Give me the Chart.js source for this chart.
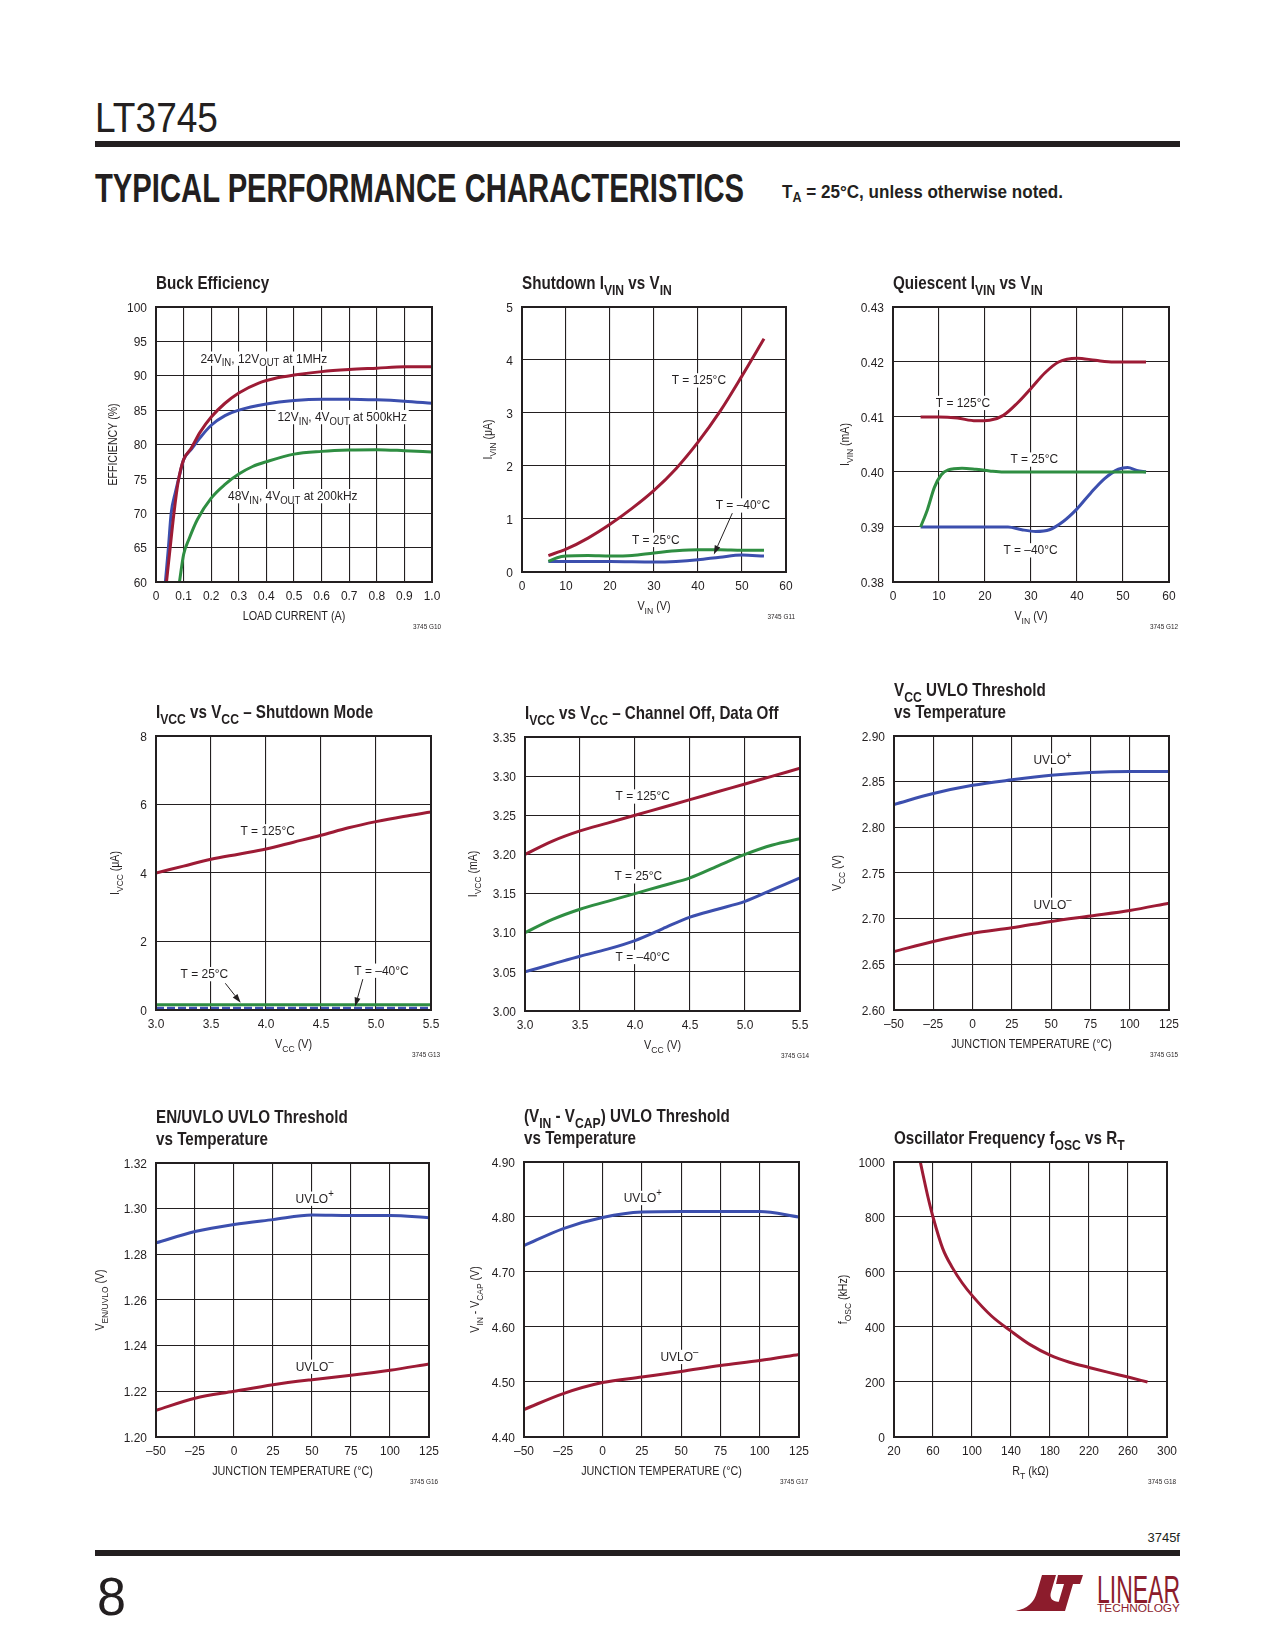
<!DOCTYPE html>
<html>
<head>
<meta charset="utf-8">
<script src="https://cdn.jsdelivr.net/npm/chart.js@4.4.1/dist/chart.umd.min.js"></script>
<style>
  html, body { margin: 0; padding: 0; background: #fff; }
  #page { position: relative; width: 1275px; height: 1650px; overflow: hidden; background: #fff; }
  #page canvas { position: absolute; }
  #deco { position: absolute; left: 0; top: 0; }
</style>
</head>
<body>
<div id="page">
<svg id="deco" width="1275" height="1650" font-family="'Liberation Sans', Arial, sans-serif" fill="#231f20">
  <text x="95" y="132" font-size="42" textLength="123" lengthAdjust="spacingAndGlyphs">LT3745</text>
  <rect x="95" y="141" width="1085" height="6"/>
  <text x="95" y="202" font-size="40" font-weight="bold" textLength="649" lengthAdjust="spacingAndGlyphs">TYPICAL PERFORMANCE CHARACTERISTICS</text>
  <text x="782" y="198" font-size="19" font-weight="bold" textLength="281" lengthAdjust="spacingAndGlyphs">T<tspan font-size="14" dy="4">A</tspan><tspan dy="-4"> = 25°C, unless otherwise noted.</tspan></text>
  <text x="1180" y="1542" font-size="13" text-anchor="end">3745f</text>
  <rect x="95" y="1550" width="1085" height="6"/>
  <text x="97" y="1615" font-size="54" textLength="29" lengthAdjust="spacingAndGlyphs">8</text>
  <g transform="translate(1015,1575)" fill="#8c1c2c">
    <path d="M27,0 L41,0 L36,17 C34,24 38,27 45,27 L42,36 L0,36 C12,34 19,28 22,17 Z"/>
    <path d="M43,0 L68,0 L65,9 L58,9 L50,36 L41,36 L49,9 L41,9 Z"/>
  </g>
  <text x="1097" y="1603" font-size="38" fill="#8c1c2c" textLength="83" lengthAdjust="spacingAndGlyphs">LINEAR</text>
  <text x="1097" y="1612" font-size="10" fill="#8c1c2c" textLength="83" lengthAdjust="spacingAndGlyphs">TECHNOLOGY</text>
</svg>
</div>
<script>
// ---------- data ----------
// Buck efficiency
const buckX24 = [0.038, 0.05, 0.065, 0.08, 0.1, 0.125, 0.16, 0.2, 0.25, 0.3, 0.37, 0.44, 0.5, 0.6, 0.7, 0.8, 0.9, 1.0];
const buckY24 = [60, 64.5, 70, 74.5, 77.8, 79.3, 81.8, 84, 86, 87.5, 88.9, 89.7, 90.1, 90.6, 90.9, 91.1, 91.3, 91.3];
const buckX12 = [0.034, 0.045, 0.055, 0.07, 0.085, 0.1, 0.13, 0.16, 0.2, 0.25, 0.3, 0.4, 0.5, 0.6, 0.7, 0.8, 0.9, 1.0];
const buckY12 = [60, 65, 70, 73, 75.5, 77.8, 79.4, 81.0, 82.8, 84.2, 85, 85.9, 86.4, 86.6, 86.6, 86.5, 86.3, 86.0];
const buckX48 = [0.085, 0.1, 0.12, 0.15, 0.2, 0.25, 0.3, 0.35, 0.4, 0.5, 0.6, 0.7, 0.8, 0.9, 1.0];
const buckY48 = [60, 64, 66.3, 69.1, 72.2, 74.2, 75.7, 76.8, 77.5, 78.6, 79.0, 79.2, 79.25, 79.1, 78.9];
const buckXLabels = ['0', '0.1', '0.2', '0.3', '0.4', '0.5', '0.6', '0.7', '0.8', '0.9', '1.0'];
const buckYLabels = ['60', '65', '70', '75', '80', '85', '90', '95', '100'];

// Shutdown IVIN vs VIN
const sdVin125 = [6, 10, 15, 20, 25, 30, 35, 40, 45, 50, 55];
const sdI125 = [0.31, 0.43, 0.64, 0.9, 1.2, 1.54, 1.95, 2.45, 3.03, 3.7, 4.4];
const sdVin25 = [6, 8, 10, 15, 20, 25, 30, 35, 40, 45, 50, 55];
const sdI25 = [0.2, 0.27, 0.3, 0.31, 0.3, 0.31, 0.36, 0.4, 0.42, 0.42, 0.41, 0.41];
const sdVinM40 = [6, 10, 20, 30, 35, 40, 45, 50, 55];
const sdIM40 = [0.2, 0.2, 0.2, 0.19, 0.2, 0.23, 0.28, 0.32, 0.3];
const vinLabels = ['0', '10', '20', '30', '40', '50', '60'];
const sdILabels = ['0', '1', '2', '3', '4', '5'];

// Quiescent IVIN vs VIN
const qVin125 = [6, 10, 14, 18, 21, 24, 27, 30, 33, 36, 40, 44, 48, 55];
const qI125 = [0.41, 0.41, 0.4098, 0.4093, 0.4094, 0.4103, 0.4125, 0.4152, 0.418, 0.42, 0.4207, 0.4203, 0.42, 0.42];
const qVin25 = [6, 7.5, 9, 10.5, 12, 15, 18, 21, 24, 30, 40, 50, 55];
const qI25 = [0.39, 0.3932, 0.3972, 0.3995, 0.4004, 0.4007, 0.4005, 0.4002, 0.4, 0.4, 0.4, 0.4, 0.4];
const qVinM40 = [6, 10, 20, 25, 28, 31, 34, 37, 40, 43, 46, 49, 51, 53, 55];
const qIM40 = [0.39, 0.39, 0.39, 0.39, 0.3895, 0.3892, 0.3895, 0.391, 0.3933, 0.3962, 0.3988, 0.4005, 0.4008, 0.4003, 0.4];
const qILabels = ['0.38', '0.39', '0.40', '0.41', '0.42', '0.43'];

// IVCC vs VCC, shutdown mode
const sdVcc = [3.0, 3.25, 3.5, 3.75, 4.0, 4.25, 4.5, 4.75, 5.0, 5.25, 5.5];
const sdIcc125 = [4.0, 4.2, 4.4, 4.55, 4.7, 4.9, 5.1, 5.32, 5.5, 5.65, 5.78];
const sdIcc25 = [0.15, 0.15, 0.15, 0.15, 0.15, 0.15, 0.15, 0.15, 0.15, 0.15, 0.15];
const sdIccM40 = [0.06, 0.06, 0.06, 0.06, 0.06, 0.06, 0.06, 0.06, 0.06, 0.06, 0.06];
const vccLabels = ['3.0', '3.5', '4.0', '4.5', '5.0', '5.5'];
const sdIccLabels = ['0', '2', '4', '6', '8'];

// IVCC vs VCC, channel off
const offVcc = [3.0, 3.25, 3.5, 3.75, 4.0, 4.25, 4.5, 4.75, 5.0, 5.25, 5.5];
const offIcc125 = [3.20, 3.217, 3.23, 3.24, 3.25, 3.26, 3.27, 3.28, 3.29, 3.30, 3.31];
const offIcc25 = [3.10, 3.117, 3.13, 3.14, 3.15, 3.16, 3.17, 3.185, 3.20, 3.212, 3.22];
const offIccM40 = [3.05, 3.06, 3.07, 3.079, 3.09, 3.105, 3.12, 3.13, 3.14, 3.155, 3.17];
const offIccLabels = ['3.00', '3.05', '3.10', '3.15', '3.20', '3.25', '3.30', '3.35'];

// thresholds vs temperature
const tempC = [-50, -25, 0, 25, 50, 75, 100, 125];
const vccUvloRise = [2.825, 2.837, 2.846, 2.852, 2.857, 2.86, 2.861, 2.861];
const vccUvloFall = [2.664, 2.675, 2.684, 2.690, 2.697, 2.703, 2.709, 2.717];
const enUvloRise = [1.285, 1.290, 1.2931, 1.2952, 1.2972, 1.297, 1.297, 1.296];
const enUvloFall = [1.2117, 1.217, 1.22, 1.2229, 1.2251, 1.227, 1.2292, 1.232];
const capUvloRise = [4.748, 4.779, 4.799, 4.809, 4.81, 4.81, 4.81, 4.80];
const capUvloFall = [4.45, 4.479, 4.499, 4.509, 4.519, 4.530, 4.539, 4.55];
const tempLabels = ['–50', '–25', '0', '25', '50', '75', '100', '125'];
const vccUvloLabels = ['2.60', '2.65', '2.70', '2.75', '2.80', '2.85', '2.90'];
const enUvloLabels = ['1.20', '1.22', '1.24', '1.26', '1.28', '1.30', '1.32'];
const capUvloLabels = ['4.40', '4.50', '4.60', '4.70', '4.80', '4.90'];

// oscillator frequency vs RT
const rtK = [47, 50, 55, 60, 70, 80, 90, 100, 120, 140, 160, 180, 200, 220, 240, 260, 280];
const foscK = [1000, 950, 870, 800, 685, 615, 560, 515, 440, 385, 335, 298, 272, 253, 235, 218, 200];
const rtLabels = ['20', '60', '100', '140', '180', '220', '260', '300'];
const foscLabels = ['0', '200', '400', '600', '800', '1000'];

// ---------- drawing helpers ----------
const RED = '#9d1b35', BLUE = '#3c4fae', GREEN = '#2f8e42', INK = '#231f20';
const FONT = '"Liberation Sans", Arial, Helvetica, sans-serif';

function part(p) { return typeof p === 'string' ? [p, ''] : p; }
function setFont(ctx, size, bold) { ctx.font = (bold ? 'bold ' : '') + size.toFixed(2) + 'px ' + FONT; }
function richWidth(ctx, parts, size, bold) {
  let w = 0;
  parts.forEach(p => { const [t, k] = part(p); setFont(ctx, k ? size * 0.8 : size, bold); w += ctx.measureText(t).width; });
  return w;
}
// y is the baseline
function drawRich(ctx, parts, x, y, o) {
  const size = o.size, bold = !!o.bold, sx = o.sx || 1;
  ctx.save();
  ctx.translate(x, y);
  if (o.rot) ctx.rotate(-Math.PI / 2);
  ctx.scale(sx, 1);
  const w = richWidth(ctx, parts, size, bold);
  let cx = o.align === 'center' ? -w / 2 : o.align === 'right' ? -w : 0;
  if (o.bg) { ctx.fillStyle = '#fff'; ctx.fillRect(cx - 2, -size * 0.85, w + 4, size * 1.1); }
  ctx.fillStyle = INK; ctx.textAlign = 'left'; ctx.textBaseline = 'alphabetic';
  parts.forEach(p => {
    const [t, k] = part(p);
    const s = k ? size * 0.8 : size;
    const dy = k === 'sub' ? size * 0.3 : k === 'sup' ? -size * 0.42 : 0;
    setFont(ctx, s, bold);
    ctx.fillText(t, cx, dy);
    cx += ctx.measureText(t).width;
  });
  ctx.restore();
}
function arrow(ctx, x1, y1, x2, y2) {
  const a = Math.atan2(y2 - y1, x2 - x1), L = 9, hw = 3;
  ctx.save();
  ctx.strokeStyle = INK; ctx.fillStyle = INK; ctx.lineWidth = 1;
  ctx.beginPath(); ctx.moveTo(x1, y1); ctx.lineTo(x2 - L * Math.cos(a), y2 - L * Math.sin(a)); ctx.stroke();
  ctx.beginPath(); ctx.moveTo(x2, y2);
  ctx.lineTo(x2 - L * Math.cos(a) + hw * Math.sin(a), y2 - L * Math.sin(a) - hw * Math.cos(a));
  ctx.lineTo(x2 - L * Math.cos(a) - hw * Math.sin(a), y2 - L * Math.sin(a) + hw * Math.cos(a));
  ctx.closePath(); ctx.fill();
  ctx.restore();
}

function pagePlugin(c) {
  return {
    id: 'pageText',
    beforeDatasetsDraw(chart) {
      const ctx = chart.ctx, xs = chart.scales.x, ys = chart.scales.y;
      (c.labels || []).forEach(l => {
        drawRich(ctx, l.parts, xs.getPixelForValue(l.x), ys.getPixelForValue(l.y) + 0.36 * 13,
          { size: 13, sx: 0.92, align: l.align || 'center', bg: true });
      });
    },
    afterDraw(chart) {
      const ctx = chart.ctx, a = chart.chartArea, xs = chart.scales.x, ys = chart.scales.y;
      ctx.save();
      ctx.strokeStyle = INK; ctx.lineWidth = 2;
      ctx.strokeRect(a.left, a.top, a.right - a.left, a.bottom - a.top);
      ctx.restore();
      ys.ticks.forEach((t, i) => drawRich(ctx, [c.yLabels[i]], a.left - 9, ys.getPixelForValue(t.value) + 4.7,
        { size: 13, sx: 0.92, align: 'right' }));
      xs.ticks.forEach((t, i) => drawRich(ctx, [c.xLabels[i]], xs.getPixelForValue(t.value), a.bottom + 18.2,
        { size: 13, sx: 0.92, align: 'center' }));
      const n = c.title.length;
      c.title.forEach((ln, i) => drawRich(ctx, ln, a.left, a.top - 18 - 22 * (n - 1 - i), { size: 19, bold: true, sx: 0.8 }));
      drawRich(ctx, c.yTitle, a.left + c.yTitleDx + 0.36 * 12, (a.top + a.bottom) / 2, { size: 12, sx: 0.88, align: 'center', rot: true });
      drawRich(ctx, c.xTitle, (a.left + a.right) / 2, a.bottom + 38.3, { size: 12, sx: 0.9, align: 'center' });
      drawRich(ctx, ['3745 ' + c.code], a.right + 9, a.bottom + 46.5, { size: 7.5, sx: 0.85, align: 'right' });
      (c.arrows || []).forEach(r => arrow(ctx, xs.getPixelForValue(r.x1), ys.getPixelForValue(r.y1),
        xs.getPixelForValue(r.x2), ys.getPixelForValue(r.y2)));
    }
  };
}

const num = s => parseFloat(s.replace('–', '-'));

function makeChart(c) {
  const PL = 85, PT = 70, PR = 35, PB = 60;
  const W = c.w + PL + PR, H = c.h + PT + PB;
  const cv = document.createElement('canvas');
  cv.width = W; cv.height = H;
  cv.style.left = (c.left - PL) + 'px'; cv.style.top = (c.top - PT) + 'px';
  cv.style.width = W + 'px'; cv.style.height = H + 'px';
  document.getElementById('page').appendChild(cv);
  const axis = (labels, isX) => {
    const ticks = labels.map(num);
    return {
      type: 'linear', min: ticks[0], max: ticks[ticks.length - 1],
      afterBuildTicks: s => { s.ticks = ticks.map(v => ({ value: v })); },
      afterFit: s => { if (isX) s.height = 0; else s.width = 0; },
      ticks: { display: false },
      grid: { color: INK, lineWidth: 1.1, drawTicks: false },
      border: { display: false }
    };
  };
  new Chart(cv, {
    type: 'line',
    data: {
      datasets: c.series.map(s => ({
        data: s.x.map((v, i) => ({ x: v, y: s.y[i] })),
        borderColor: s.color, borderWidth: s.width || 3, borderDash: s.dash || [],
        pointRadius: 0, fill: false, cubicInterpolationMode: 'monotone'
      }))
    },
    options: {
      responsive: false, animation: false, events: [],
      layout: { padding: { left: PL, top: PT, right: PR, bottom: PB } },
      plugins: { legend: { display: false }, tooltip: { enabled: false } },
      scales: { x: axis(c.xLabels, true), y: axis(c.yLabels, false) }
    },
    plugins: [pagePlugin(c)]
  });
}

const T125 = ['T = 125°C'], T25 = ['T = 25°C'], TM40 = ['T = –40°C'];
const UP = ['UVLO', ['+', 'sup']], DN = ['UVLO', ['–', 'sup']];

const charts = [
  { left: 156, top: 307, w: 276, h: 275, code: 'G10',
    title: [['Buck Efficiency']], yTitle: ['EFFICIENCY (%)'], yTitleDx: -43, xTitle: ['LOAD CURRENT (A)'],
    xLabels: buckXLabels, yLabels: buckYLabels,
    series: [{ x: buckX24, y: buckY24, color: RED }, { x: buckX12, y: buckY12, color: BLUE }, { x: buckX48, y: buckY48, color: GREEN }],
    labels: [
      { x: 0.161, y: 92.6, align: 'left', parts: ['24V', ['IN', 'sub'], ', 12V', ['OUT', 'sub'], ' at 1MHz'] },
      { x: 0.44, y: 84.1, align: 'left', parts: ['12V', ['IN', 'sub'], ', 4V', ['OUT', 'sub'], ' at 500kHz'] },
      { x: 0.261, y: 72.6, align: 'left', parts: ['48V', ['IN', 'sub'], ', 4V', ['OUT', 'sub'], ' at 200kHz'] }
    ] },
  { left: 522, top: 307, w: 264, h: 265, code: 'G11',
    title: [['Shutdown I', ['VIN', 'sub'], ' vs V', ['IN', 'sub']]], yTitle: ['I', ['VIN', 'sub'], ' (μA)'], yTitleDx: -34,
    xTitle: ['V', ['IN', 'sub'], ' (V)'], xLabels: vinLabels, yLabels: sdILabels,
    series: [{ x: sdVin125, y: sdI125, color: RED }, { x: sdVin25, y: sdI25, color: GREEN }, { x: sdVinM40, y: sdIM40, color: BLUE }],
    labels: [{ x: 40.2, y: 3.63, parts: T125 }, { x: 50.2, y: 1.27, parts: TM40 }, { x: 30.4, y: 0.62, parts: T25 }],
    arrows: [{ x1: 47.8, y1: 1.11, x2: 43.6, y2: 0.33 }] },
  { left: 893, top: 307, w: 276, h: 275, code: 'G12',
    title: [['Quiescent I', ['VIN', 'sub'], ' vs V', ['IN', 'sub']]], yTitle: ['I', ['VIN', 'sub'], ' (mA)'], yTitleDx: -48,
    xTitle: ['V', ['IN', 'sub'], ' (V)'], xLabels: vinLabels, yLabels: qILabels,
    series: [{ x: qVin125, y: qI125, color: RED }, { x: qVin25, y: qI25, color: GREEN }, { x: qVinM40, y: qIM40, color: BLUE }],
    labels: [{ x: 15.2, y: 0.4127, parts: T125 }, { x: 30.7, y: 0.4024, parts: T25 }, { x: 29.9, y: 0.3859, parts: TM40 }] },
  { left: 156, top: 736, w: 275, h: 274, code: 'G13',
    title: [['I', ['VCC', 'sub'], ' vs V', ['CC', 'sub'], ' – Shutdown Mode']], yTitle: ['I', ['VCC', 'sub'], ' (μA)'], yTitleDx: -41,
    xTitle: ['V', ['CC', 'sub'], ' (V)'], xLabels: vccLabels, yLabels: sdIccLabels,
    series: [{ x: sdVcc, y: sdIcc125, color: RED }, { x: sdVcc, y: sdIcc25, color: GREEN },
             { x: sdVcc, y: sdIccM40, color: BLUE, width: 2.3, dash: [8, 3] }],
    labels: [{ x: 4.015, y: 5.24, parts: T125 }, { x: 3.44, y: 1.07, parts: T25 }, { x: 5.05, y: 1.17, parts: TM40 }],
    arrows: [{ x1: 3.63, y1: 0.78, x2: 3.77, y2: 0.21 }, { x1: 4.88, y1: 0.9, x2: 4.81, y2: 0.1 }] },
  { left: 525, top: 737, w: 275, h: 274, code: 'G14',
    title: [['I', ['VCC', 'sub'], ' vs V', ['CC', 'sub'], ' – Channel Off, Data Off']], yTitle: ['I', ['VCC', 'sub'], ' (mA)'], yTitleDx: -52,
    xTitle: ['V', ['CC', 'sub'], ' (V)'], xLabels: vccLabels, yLabels: offIccLabels,
    series: [{ x: offVcc, y: offIcc125, color: RED }, { x: offVcc, y: offIcc25, color: GREEN }, { x: offVcc, y: offIccM40, color: BLUE }],
    labels: [{ x: 4.07, y: 3.275, parts: T125 }, { x: 4.03, y: 3.173, parts: T25 }, { x: 4.07, y: 3.07, parts: TM40 }] },
  { left: 894, top: 736, w: 275, h: 274, code: 'G15',
    title: [['V', ['CC', 'sub'], ' UVLO Threshold'], ['vs Temperature']], yTitle: ['V', ['CC', 'sub'], ' (V)'], yTitleDx: -57,
    xTitle: ['JUNCTION TEMPERATURE (°C)'], xLabels: tempLabels, yLabels: vccUvloLabels,
    series: [{ x: tempC, y: vccUvloRise, color: BLUE }, { x: tempC, y: vccUvloFall, color: RED }],
    labels: [{ x: 50.9, y: 2.874, parts: UP }, { x: 50.9, y: 2.716, parts: DN }] },
  { left: 156, top: 1163, w: 273, h: 274, code: 'G16',
    title: [['EN/UVLO UVLO Threshold'], ['vs Temperature']], yTitle: ['V', ['EN/UVLO', 'sub'], ' (V)'], yTitleDx: -56,
    xTitle: ['JUNCTION TEMPERATURE (°C)'], xLabels: tempLabels, yLabels: enUvloLabels,
    series: [{ x: tempC, y: enUvloRise, color: BLUE }, { x: tempC, y: enUvloFall, color: RED }],
    labels: [{ x: 51.7, y: 1.3047, parts: UP }, { x: 51.7, y: 1.2311, parts: DN }] },
  { left: 524, top: 1162, w: 275, h: 275, code: 'G17',
    title: [['(V', ['IN', 'sub'], ' - V', ['CAP', 'sub'], ') UVLO Threshold'], ['vs Temperature']],
    yTitle: ['V', ['IN', 'sub'], ' - V', ['CAP', 'sub'], ' (V)'], yTitleDx: -49,
    xTitle: ['JUNCTION TEMPERATURE (°C)'], xLabels: tempLabels, yLabels: capUvloLabels,
    series: [{ x: tempC, y: capUvloRise, color: BLUE }, { x: tempC, y: capUvloFall, color: RED }],
    labels: [{ x: 25.6, y: 4.836, parts: UP }, { x: 48.9, y: 4.547, parts: DN }] },
  { left: 894, top: 1162, w: 273, h: 275, code: 'G18',
    title: [['Oscillator Frequency f', ['OSC', 'sub'], ' vs R', ['T', 'sub']]], yTitle: ['f', ['OSC', 'sub'], ' (kHz)'], yTitleDx: -51,
    xTitle: ['R', ['T', 'sub'], ' (kΩ)'], xLabels: rtLabels, yLabels: foscLabels,
    series: [{ x: rtK, y: foscK, color: RED }] }
];

charts.forEach(makeChart);
</script>
</body>
</html>
